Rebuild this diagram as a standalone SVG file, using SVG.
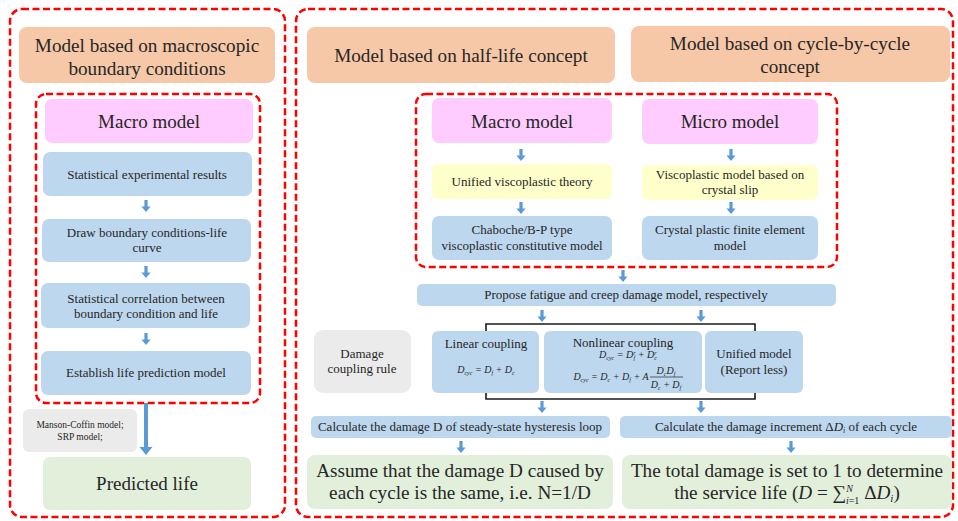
<svg xmlns="http://www.w3.org/2000/svg" width="958" height="521" viewBox="0 0 958 521">
<style>
text{font-family:"Liberation Serif","Times New Roman",serif;fill:#262626;text-anchor:middle}
.dash{fill:none;stroke:#FF0000;stroke-width:2.5;stroke-dasharray:7 3.5}
.peach{fill:#F6C8A8}
.pink{fill:#FFCCFF}
.blue{fill:#BDD7EE}
.yel{fill:#FFFFCC}
.gray{fill:#EBEBEB}
.green{fill:#E2EFDA}
.t18{font-size:19.2px}
.t19{font-size:19px}
.t12{font-size:13px}
.t13{font-size:13px}
.t20{font-size:19.2px}
.t9{font-size:9.5px}
.m{font-style:italic;font-size:10px}
.s{font-size:6px}
.br{fill:none;stroke:#1a1a1a;stroke-width:1.6}
</style>
<defs>
<path id="a" d="M-1.6 0h3.2v6.5h3l-4.6 5.5l-4.6-5.5h3z" fill="#5B9BD5"/>
</defs>
<rect width="958" height="521" fill="#FFFFFF"/>

<!-- Left panel -->
<g id="left-panel">
<rect class="dash" x="10" y="9" width="275" height="508" rx="12"/>
</g>
<g id="left-title">
<rect class="peach" x="19" y="27" width="256" height="56" rx="8"/>
<text class="t18" x="147" y="52">Model based on macroscopic</text>
<text class="t18" x="147" y="75">boundary conditions</text>
</g>
<g id="left-inner">
<rect class="dash" x="36" y="94" width="224" height="309" rx="10"/>
</g>
<g id="left-macro">
<rect class="pink" x="45" y="99" width="208" height="44" rx="7"/>
<text class="t19" x="149" y="128">Macro model</text>
</g>
<g id="stat-exp">
<rect class="blue" x="43" y="152" width="209" height="44" rx="7"/>
<text class="t12" x="147" y="179">Statistical experimental results</text>
</g>
<g id="draw-curve">
<rect class="blue" x="42" y="219" width="209" height="43" rx="7"/>
<text class="t12" x="147" y="237">Draw boundary conditions-life</text>
<text class="t12" x="147" y="252">curve</text>
</g>
<g id="stat-corr">
<rect class="blue" x="41" y="283" width="209" height="45" rx="7"/>
<text class="t12" x="146" y="303">Statistical correlation between</text>
<text class="t12" x="146" y="318">boundary condition and life</text>
</g>
<g id="establish">
<rect class="blue" x="41" y="351" width="210" height="44" rx="7"/>
<text class="t12" x="146" y="377">Establish life prediction model</text>
</g>
<g id="manson">
<rect class="gray" x="23" y="409" width="114" height="43" rx="6"/>
<text class="t9" x="80" y="428">Manson-Coffin model;</text>
<text class="t9" x="80" y="440">SRP model;</text>
</g>
<g id="predicted">
<rect class="green" x="43" y="457" width="208" height="53" rx="7"/>
<text class="t19" x="147" y="490">Predicted life</text>
</g>

<!-- Right panel -->
<g id="right-panel">
<rect class="dash" x="296" y="9" width="657" height="508" rx="12"/>
</g>
<g id="half-life">
<rect class="peach" x="307" y="27" width="308" height="56" rx="8"/>
<text class="t18" x="461" y="62">Model based on half-life concept</text>
</g>
<g id="cycle-by-cycle">
<rect class="peach" x="631" y="26" width="319" height="56" rx="8"/>
<text class="t18" x="790" y="50">Model based on cycle-by-cycle</text>
<text class="t18" x="790" y="73">concept</text>
</g>
<g id="right-inner">
<rect class="dash" x="416" y="94" width="421" height="173" rx="10"/>
</g>
<g id="right-macro">
<rect class="pink" x="432" y="98" width="180" height="45" rx="7"/>
<text class="t19" x="522" y="128">Macro model</text>
</g>
<g id="micro">
<rect class="pink" x="642" y="99" width="176" height="45" rx="7"/>
<text class="t19" x="730" y="128">Micro model</text>
</g>
<g id="unified-theory">
<rect class="yel" x="432" y="164" width="180" height="35" rx="6"/>
<text class="t12" x="522" y="186">Unified viscoplastic theory</text>
</g>
<g id="crystal-slip">
<rect class="yel" x="642" y="165" width="176" height="35" rx="6"/>
<text class="t12" x="730" y="179">Viscoplastic model based on</text>
<text class="t12" x="730" y="194">crystal slip</text>
</g>
<g id="chaboche">
<rect class="blue" x="432" y="216" width="180" height="44" rx="7"/>
<text class="t12" x="522" y="234">Chaboche/B-P type</text>
<text class="t12" x="522" y="250">viscoplastic constitutive model</text>
</g>
<g id="cpfem">
<rect class="blue" x="642" y="216" width="176" height="44" rx="7"/>
<text class="t12" x="730" y="234">Crystal plastic finite element</text>
<text class="t12" x="730" y="250">model</text>
</g>
<g id="propose">
<rect class="blue" x="417" y="284" width="419" height="22" rx="5"/>
<text class="t12" x="626" y="299">Propose fatigue and creep damage model, respectively</text>
</g>
<g id="coupling-rule">
<rect class="gray" x="314" y="330" width="97" height="63" rx="9"/>
<text class="t12" x="362" y="358">Damage</text>
<text class="t12" x="362" y="373">coupling rule</text>
</g>
<g id="linear">
<rect class="blue" x="432" y="331" width="107" height="62" rx="6"/>
<text class="t13" x="486" y="348">Linear coupling</text>
<text class="m" x="486" y="373">D<tspan class="s" dy="2">cyc</tspan><tspan dy="-2"> = D</tspan><tspan class="s" dy="2">f</tspan><tspan dy="-2"> + D</tspan><tspan class="s" dy="2">c</tspan></text>
</g>
<g id="nonlinear">
<rect class="blue" x="544" y="331" width="158" height="62" rx="6"/>
<text class="t13" x="623" y="347">Nonlinear coupling</text>
<text class="m" x="628" y="358">D<tspan class="s" dy="2">cyc</tspan><tspan dy="-2"> = D</tspan><tspan class="s" dy="-3">r</tspan><tspan class="s" dx="-2" dy="5">f</tspan><tspan dy="-2"> + D</tspan><tspan class="s" dy="-3">r</tspan><tspan class="s" dx="-2" dy="5">c</tspan></text>
<text class="m" x="611" y="380">D<tspan class="s" dy="2">cyc</tspan><tspan dy="-2"> = D</tspan><tspan class="s" dy="2">c</tspan><tspan dy="-2"> + D</tspan><tspan class="s" dy="2">f</tspan><tspan dy="-2"> + A</tspan></text>
<text class="m" x="666" y="374">D<tspan class="s" dy="2">c</tspan><tspan dy="-2">D</tspan><tspan class="s" dy="2">f</tspan></text>
<line x1="650" y1="377" x2="683" y2="377" stroke="#262626" stroke-width="0.7"/>
<text class="m" x="666" y="388">D<tspan class="s" dy="2">c</tspan><tspan dy="-2"> + D</tspan><tspan class="s" dy="2">f</tspan></text>
</g>
<g id="unified-model">
<rect class="blue" x="705" y="331" width="98" height="62" rx="6"/>
<text class="t13" x="754" y="358">Unified model</text>
<text class="t13" x="754" y="374">(Report less)</text>
</g>
<g id="calc-d">
<rect class="blue" x="311" y="416" width="299" height="22" rx="5"/>
<text class="t12" x="460" y="431">Calculate the damage D of steady-state hysteresis loop</text>
</g>
<g id="calc-inc">
<rect class="blue" x="620" y="416" width="332" height="22" rx="5"/>
<text class="t12" x="786" y="431">Calculate the damage increment Δ<tspan font-style="italic">D</tspan><tspan font-size="8" font-style="italic" dy="2">i</tspan><tspan dy="-2"> of each cycle</tspan></text>
</g>
<g id="assume">
<rect class="green" x="307" y="455" width="306" height="54" rx="8"/>
<text class="t20" x="460" y="477">Assume that the damage D caused by</text>
<text class="t20" x="460" y="499">each cycle is the same, i.e. N=1/D</text>
</g>
<g id="total">
<rect class="green" x="622" y="455" width="330" height="54" rx="8"/>
<text class="t20" x="787" y="477">The total damage is set to 1 to determine</text>
<text class="t20" x="787" y="499">the service life (<tspan font-style="italic">D</tspan> = ∑<tspan font-size="10" dy="-7" font-style="italic">N</tspan><tspan font-size="10" dx="-7" dy="12" font-style="italic">i</tspan><tspan font-size="10">=1</tspan><tspan dy="-5"> Δ</tspan><tspan font-style="italic">D</tspan><tspan font-size="11" font-style="italic" dy="3">i</tspan><tspan dy="-3">)</tspan></text>
</g>

<g id="connectors">
<use href="#a" x="146" y="200"/>
<use href="#a" x="146" y="266"/>
<use href="#a" x="146" y="333"/>
<path d="M144 403h4v44h4.5l-6.5 8l-6.5-8h4.5z" fill="#5B9BD5"/>
<use href="#a" x="521" y="149"/>
<use href="#a" x="521" y="202"/>
<use href="#a" x="731" y="149"/>
<use href="#a" x="731" y="202"/>
<use href="#a" x="623" y="270"/>
<use href="#a" x="542" y="310"/>
<use href="#a" x="701" y="310"/>
<path class="br" d="M486 331v-7h269v7"/>
<path class="br" d="M486 393v6h269v-6"/>
<use href="#a" x="542" y="401"/>
<use href="#a" x="701" y="401"/>
<use href="#a" x="461" y="441"/>
<use href="#a" x="791" y="441"/>
</g>
</svg>
